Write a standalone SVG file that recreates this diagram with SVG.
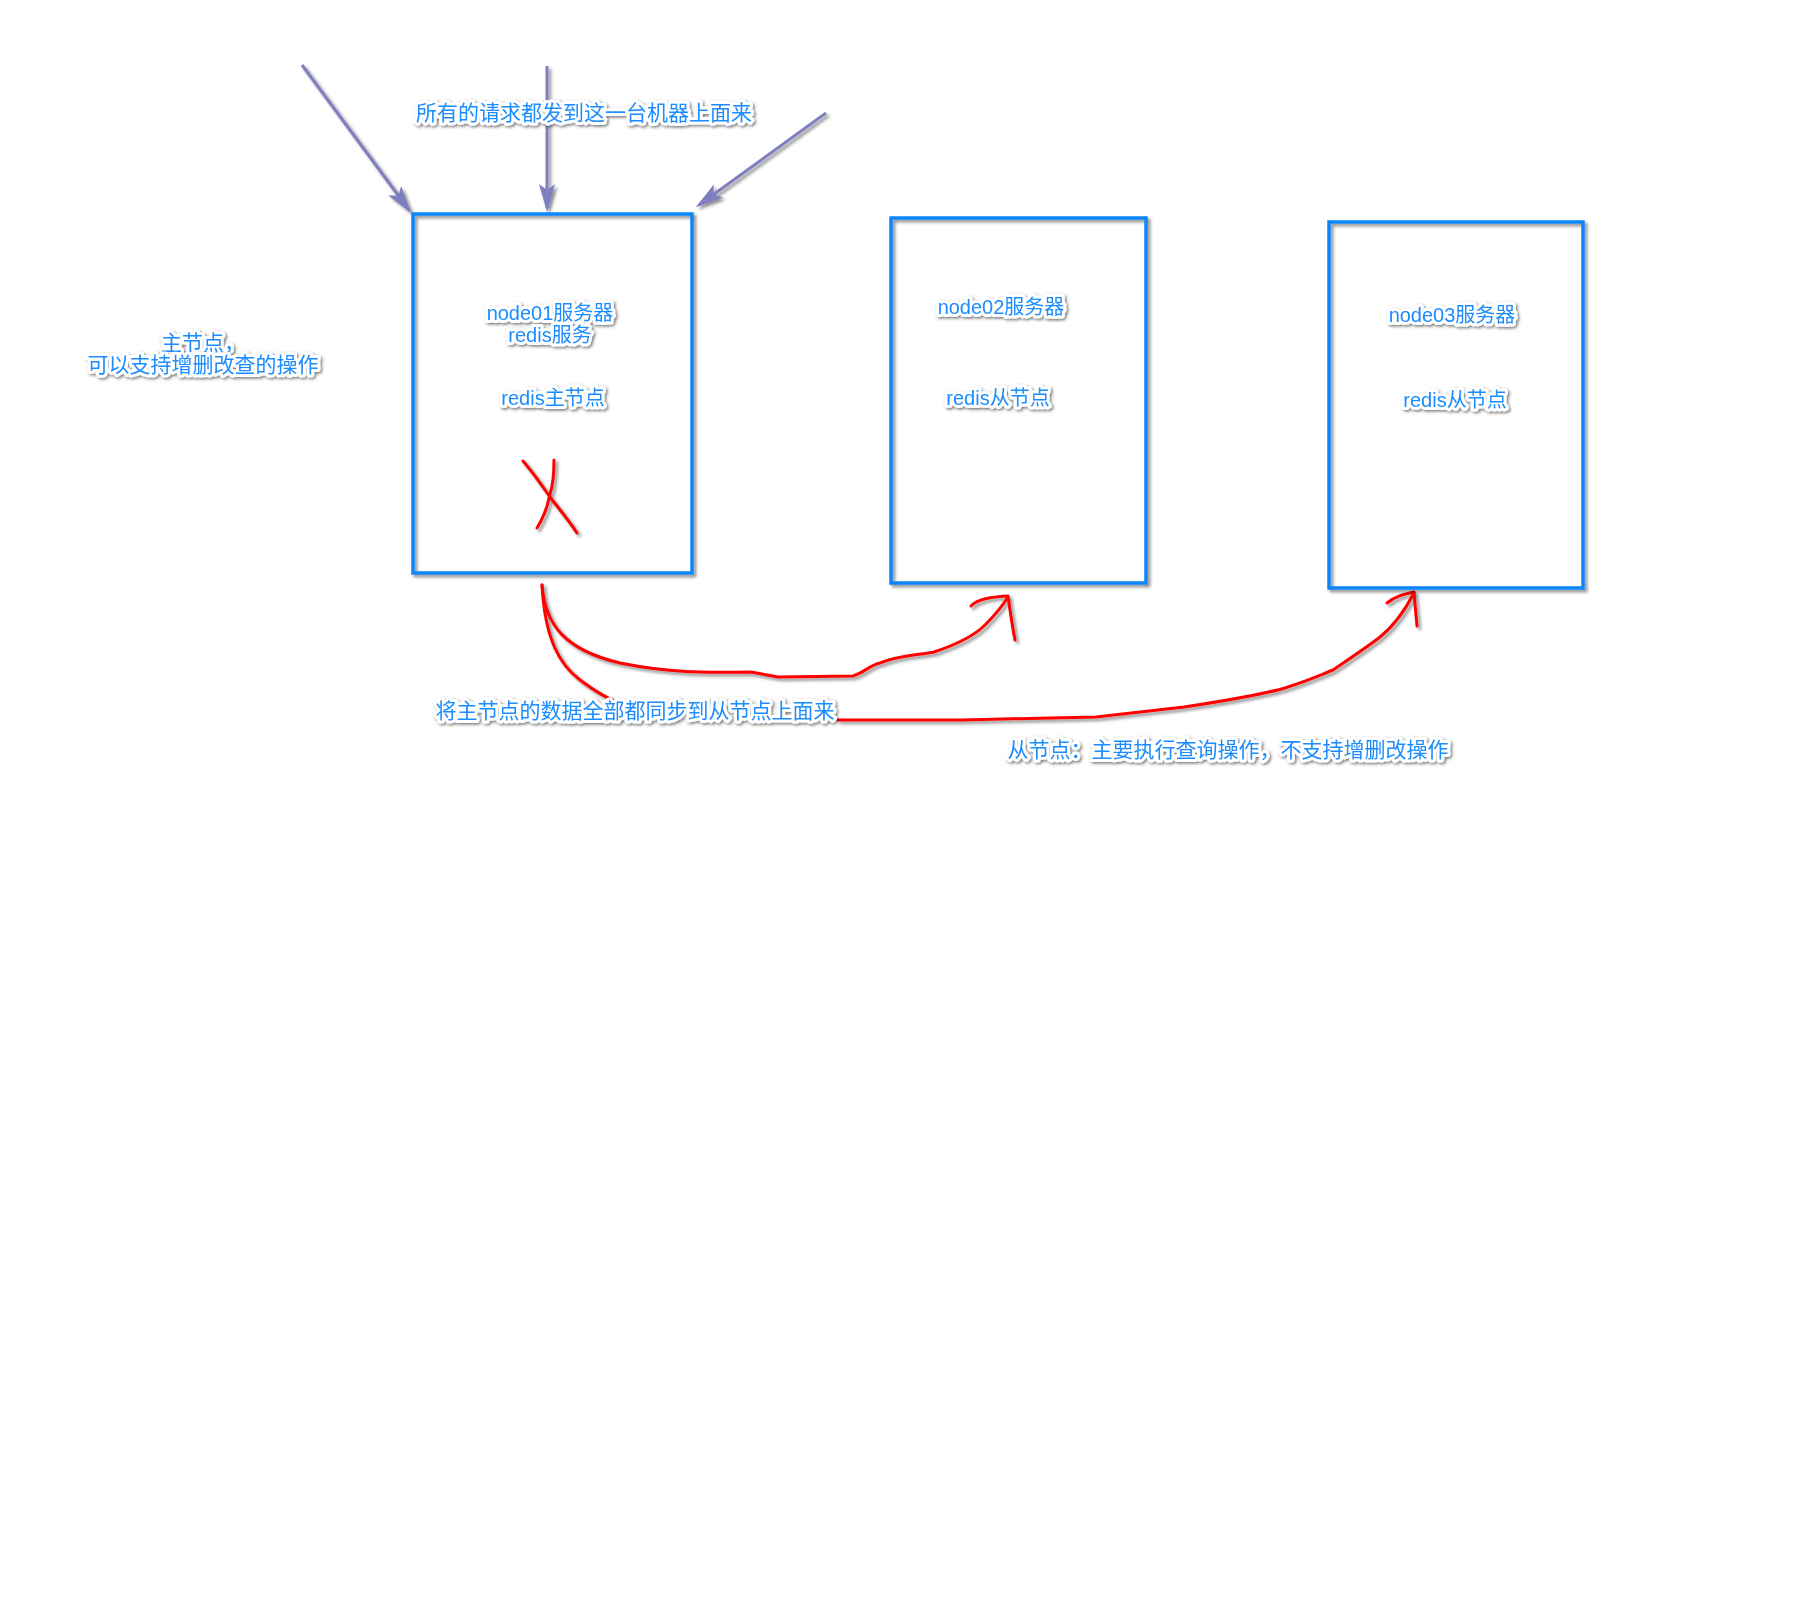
<svg xmlns="http://www.w3.org/2000/svg" width="1800" height="1600" viewBox="0 0 1800 1600">
<defs>
<style>
.box{fill:none;stroke:#0E85FA;stroke-width:3.5;filter:url(#sh)}
.lbl{font-family:"Liberation Sans","Noto Sans CJK SC",sans-serif;font-size:20px;fill:#1A8CFF;stroke:#fff;stroke-width:6;stroke-linejoin:round;paint-order:stroke;text-anchor:middle;filter:url(#tsh)}
.cj{font-size:21px}
.pa{fill:none;stroke:#7F7FC0;stroke-width:3;marker-end:url(#ah)}
.rd{fill:none;stroke:#FF0000;stroke-width:3;stroke-linecap:round;stroke-linejoin:round}
</style>
<filter id="sh" x="-10%" y="-10%" width="130%" height="130%">
<feDropShadow dx="2.5" dy="2.5" stdDeviation="1.8" flood-color="#000" flood-opacity="0.45"/>
</filter>
<filter id="tsh" x="-10%" y="-30%" width="130%" height="170%">
<feDropShadow dx="1.5" dy="1.5" stdDeviation="1.6" flood-color="#000" flood-opacity="0.55"/>
</filter>
<marker id="ah" viewBox="-30 -9 32 18" refX="-4" refY="0" markerWidth="32" markerHeight="18" markerUnits="userSpaceOnUse" orient="auto">
<path d="M0,0 L-28,-8 L-22,0 L-28,8 Z" fill="#7F7FC0"/>
</marker>
</defs>
<rect width="1800" height="1600" fill="#fff"/>

<g id="connectors">
<g filter="url(#sh)">
<path class="pa" d="M302,65 L409,210"/>
<path class="pa" d="M547,66 L547,208"/>
<path class="pa" d="M826,113 L699,205"/>
</g>
<g id="sync-arrows" filter="url(#sh)">
<path class="rd" d="M542,585 C545,625 565,650 620,663 C680,675 720,672 751,672 L778,677 L853,676 C865,672 870,665 880,663 C900,655 920,655 934,652 C955,645 975,635 985,625 C995,615 1003,605 1008,597"/>
<path class="rd" d="M971,606 C978,598 995,597 1008,596 C1010,610 1012,625 1015,640"/>
<path class="rd" d="M542,585 C545,640 560,665 580,680 C600,695 615,702 625,705 M838,720 C900,720 940,720 961,720 C1020,719 1060,718 1096,717 C1130,713 1160,710 1184,707 C1230,700 1260,695 1285,688 C1310,680 1320,675 1333,670 C1355,655 1370,645 1380,637 C1395,625 1405,610 1414,593"/>
<path class="rd" d="M1387,603 C1395,596 1405,594 1414,592 C1415,605 1416,615 1417,626"/>
</g>
</g>

<g id="node01">
<rect class="box" x="413" y="214" width="279" height="359"/>
<text class="lbl" x="550" y="320">node01服务器</text>
<text class="lbl" x="550" y="342">redis服务</text>
<text class="lbl" x="553" y="405">redis主节点</text>
<g filter="url(#sh)">
<path class="rd" d="M523,461 C535,475 545,490 550,497 C560,510 570,522 577,533"/>
<path class="rd" d="M554,460 C554,475 553,485 550,494 C548,505 545,515 537,528"/>
</g>
</g>

<g id="node02">
<rect class="box" x="891" y="218" width="255" height="365"/>
<text class="lbl" x="1001" y="314">node02服务器</text>
<text class="lbl" x="998" y="405">redis从节点</text>
</g>

<g id="node03">
<rect class="box" x="1329" y="222" width="254" height="366"/>
<text class="lbl" x="1452" y="322">node03服务器</text>
<text class="lbl" x="1455" y="407">redis从节点</text>
</g>

<g id="label-requests">
<text class="lbl cj" x="584" y="120">所有的请求都发到这一台机器上面来</text>
</g>
<g id="label-master">
<text class="lbl cj" x="203" y="350">主节点，</text>
<text class="lbl cj" x="203" y="372">可以支持增删改查的操作</text>
</g>
<g id="label-sync">
<text class="lbl cj" x="635" y="718">将主节点的数据全部都同步到从节点上面来</text>
</g>
<g id="label-slave">
<text class="lbl cj" x="1228" y="757">从节点：主要执行查询操作，不支持增删改操作</text>
</g>
</svg>
